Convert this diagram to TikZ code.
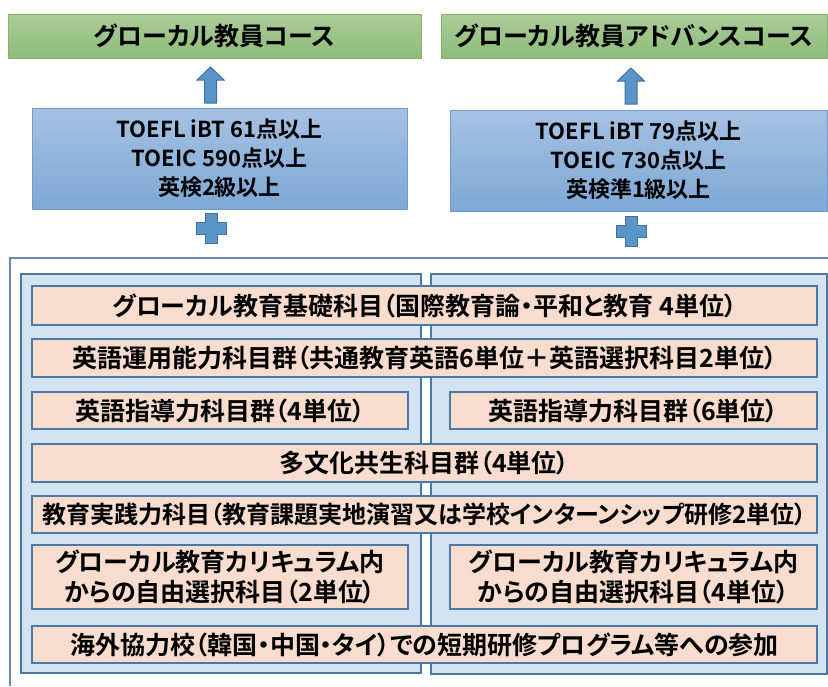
\documentclass[tikz,border=0pt]{standalone}
\usepackage{fontspec}
\setmainfont{Noto Sans CJK JP}[BoldFont={* Bold}, RawFeature=+palt]
\definecolor{coursetop}{HTML}{AACD9A}
\definecolor{coursebot}{HTML}{8FBB79}
\definecolor{coursedraw}{HTML}{86B46A}
\definecolor{reqtop}{HTML}{A6C1E2}
\definecolor{reqbot}{HTML}{7DA8D6}
\definecolor{reqdraw}{HTML}{6F9BCF}
\definecolor{arrowfill}{HTML}{5A95CA}
\definecolor{arrowdraw}{HTML}{41719C}
\definecolor{framecol}{HTML}{4C78A6}
\definecolor{panelfill}{HTML}{D3E3F2}
\definecolor{peach}{HTML}{F8DCCE}
\tikzset{
	course/.style={draw=coursedraw, line width=1pt, top color=coursetop, bottom color=coursebot, inner sep=0pt, font=\fontsize{25}{28}\selectfont\bfseries},
	req/.style={draw=reqdraw, line width=1pt, top color=reqtop, bottom color=reqbot, inner sep=0pt, align=center, font=\fontsize{22}{29}\selectfont\bfseries},
	panel/.style={draw=framecol, line width=1.6pt, fill=panelfill},
	subject/.style={draw=framecol, line width=1.6pt, fill=peach, inner sep=0pt, align=center, font=\fontsize{25}{30}\selectfont\bfseries},
	blockshape/.style={draw=arrowdraw, fill=arrowfill, line width=1pt, line join=miter}
}
\begin{document}
\begin{tikzpicture}[x=1pt, y=-1pt]
		\useasboundingbox (0,0) rectangle (828,686);
		%courses
			\node[course, minimum width=413, minimum height=44] (courseA) at (214.5,36) {グローカル教員コース};
			\node[course, minimum width=386, minimum height=44] (courseB) at (634,36) {グローカル教員アドバンスコース};
		%requirements
			\node[req, minimum width=375, minimum height=101] (reqA) at (219.5,158.5) {TOEFL iBT 61点以上\\TOEIC 590点以上\\英検2級以上};
			\node[req, minimum width=377, minimum height=101] (reqB) at (638.5,160.5) {TOEFL iBT 79点以上\\TOEIC 730点以上\\英検準1級以上};
		%arrows + plus
			\coordinate (arrA) at (210.5,85);
			\coordinate (arrB) at (631,86);
			\coordinate (plusA) at (211,228.5);
			\coordinate (plusB) at (631,231);
			\foreach \c in {arrA,arrB}
				\draw[blockshape, shift={(\c)}] (-6,18) -- (-6,-5) -- (-13.5,-5) -- (0,-18) -- (13.5,-5) -- (6,-5) -- (6,18) -- cycle;
			\foreach \c in {plusA,plusB}
				\draw[blockshape, shift={(\c)}] (-6,-15) -- (6,-15) -- (6,-6) -- (15,-6) -- (15,6) -- (6,6) -- (6,15) -- (-6,15) -- (-6,6) -- (-15,6) -- (-15,-6) -- (-6,-6) -- cycle;
		%frame + panels
			\draw[framecol!85, line width=1.6pt] (828,258) -- (10,258) -- (10,686);
			\draw[panel] (21,274) rectangle (421,673);
			\draw[panel] (431,274) rectangle (827,674);
		%subjects
			\node[subject, minimum width=785, minimum height=39] (base) at (424.5,305.5) {グローカル教育基礎科目（国際教育論・平和と教育 4単位）};
			\node[subject, minimum width=785, minimum height=38] (english) at (424.5,358) {英語運用能力科目群（共通教育英語6単位＋英語選択科目2単位）};
			\node[subject, minimum width=376, minimum height=37] (teachA) at (220,410.5) {英語指導力科目群（4単位）};
			\node[subject, minimum width=367, minimum height=37] (teachB) at (633.5,410.5) {英語指導力科目群（6単位）};
			\node[subject, minimum width=785, minimum height=38] (multi) at (424.5,463) {多文化共生科目群（4単位）};
			\node[subject, minimum width=785, minimum height=37, font=\fontsize{24}{30}\selectfont\bfseries] (practice) at (424.5,514.5) {教育実践力科目（教育課題実地演習又は学校インターンシップ研修2単位）};
			\node[subject, minimum width=376, minimum height=64] (freeA) at (220,577) {グローカル教育カリキュラム内\\からの自由選択科目（2単位）};
			\node[subject, minimum width=367, minimum height=64] (freeB) at (633.5,577) {グローカル教育カリキュラム内\\からの自由選択科目（4単位）};
			\node[subject, minimum width=785, minimum height=37] (abroad) at (424.5,644.5) {海外協力校（韓国・中国・タイ）での短期研修プログラム等への参加};
	\end{tikzpicture}
\end{document}
